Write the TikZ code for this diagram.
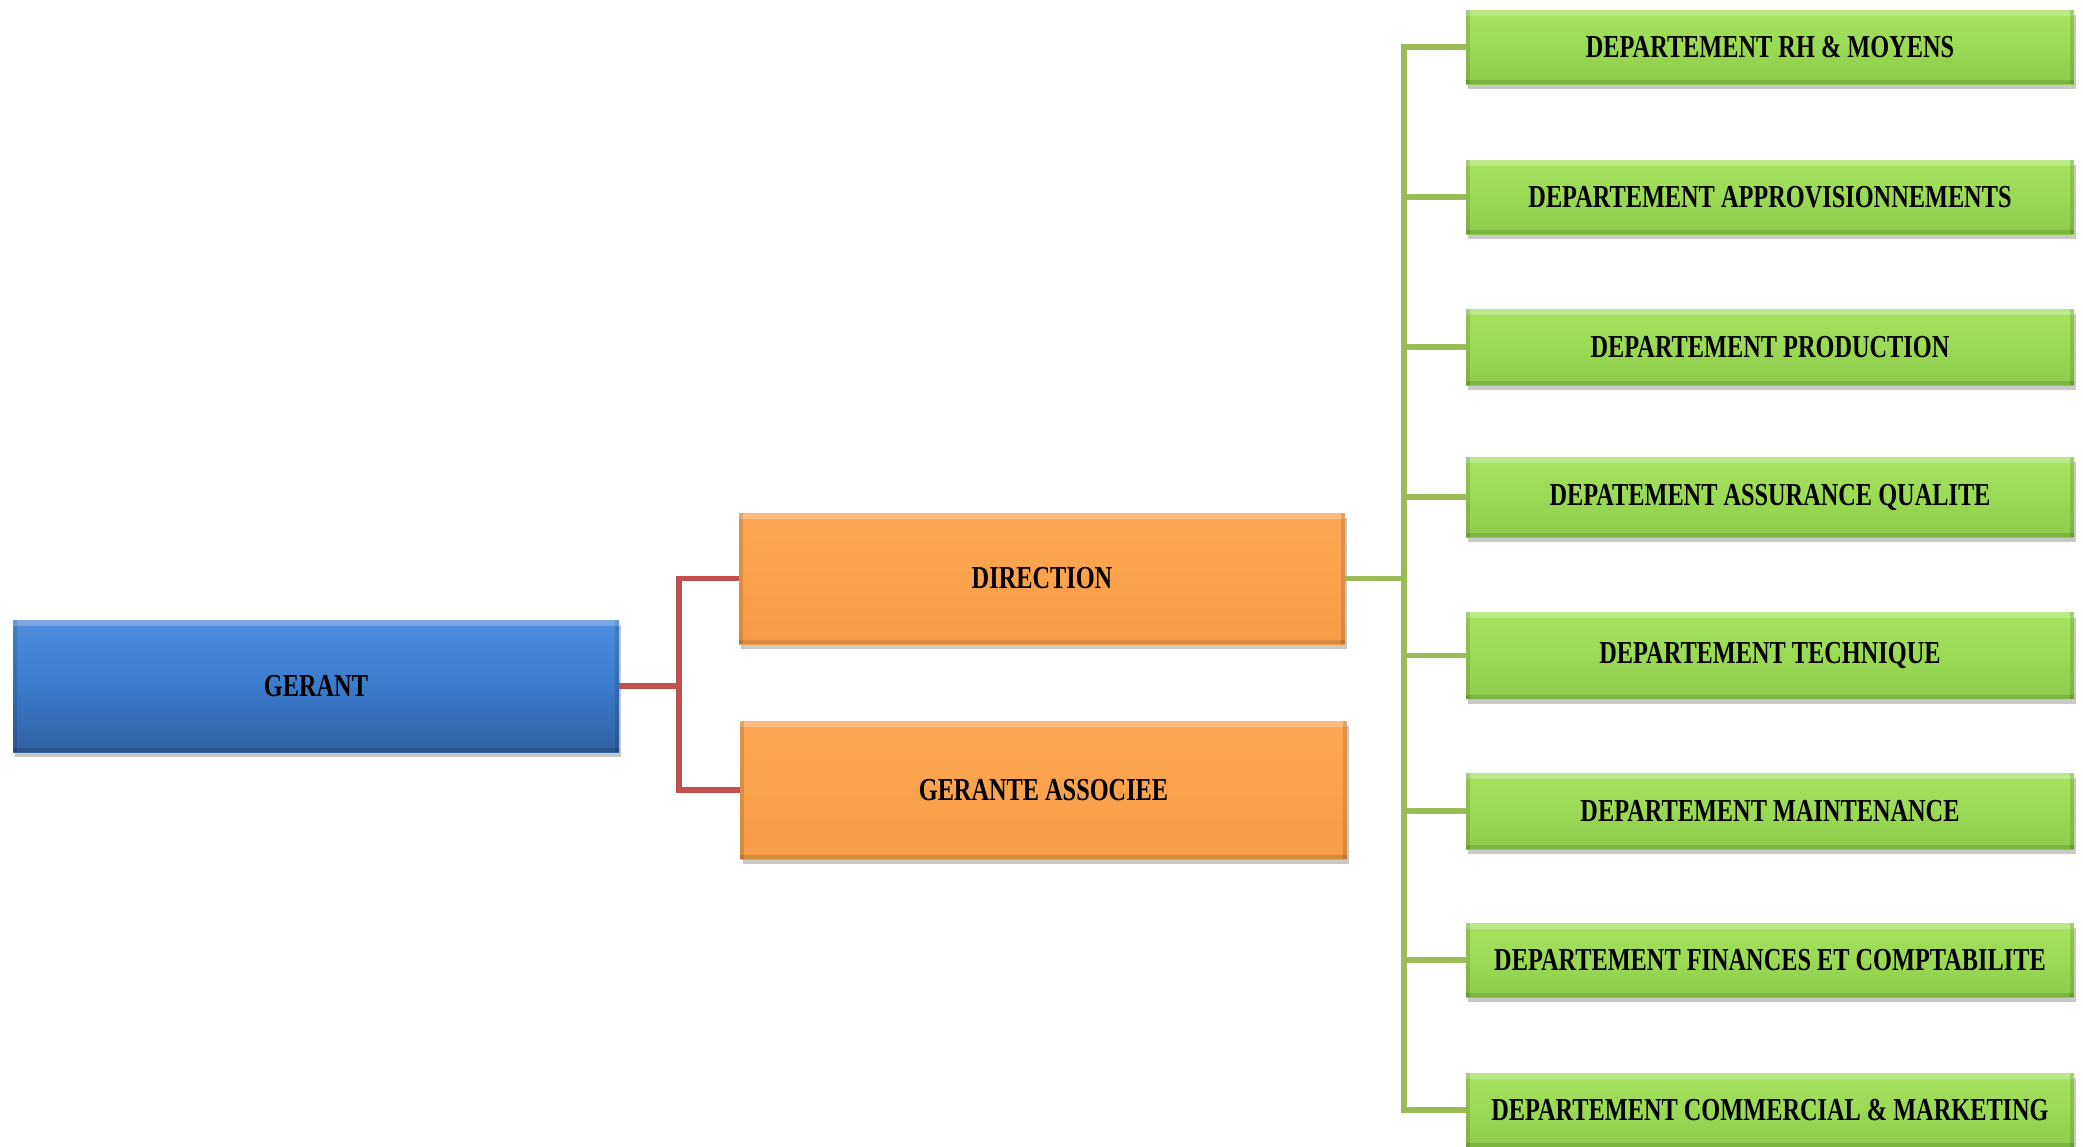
\documentclass[tikz,border=0pt]{standalone}
\usepackage{fontspec}
\newfontfamily\boxfont[FakeStretch=0.76]{Liberation Serif}
\usetikzlibrary{shadows}
\definecolor{blueTop}{HTML}{4F8EDD}
\definecolor{blueMid}{HTML}{3A7BCB}
\definecolor{blueBot}{HTML}{3161A0}
\definecolor{orangeTop}{HTML}{FBA853}
\definecolor{orangeMid}{HTML}{FBA24C}
\definecolor{orangeBot}{HTML}{F79C47}
\definecolor{greenTop}{HTML}{A6E25F}
\definecolor{greenMid}{HTML}{9ADA55}
\definecolor{greenBot}{HTML}{8DCB4A}
\definecolor{redLine}{HTML}{C0504D}
\definecolor{greenLine}{HTML}{9BBB59}
\begin{document}
\begin{tikzpicture}[x=0.5pt,y=-0.5pt,
  box/.style={draw=none, inner sep=0pt, text=black,
    font=\boxfont\bfseries\fontsize{16}{19}\selectfont,
    drop shadow={shadow xshift=1pt, shadow yshift=-2.5pt, opacity=0.3, fill=black!70}},
  bluebox/.style={box, top color=blueTop, bottom color=blueBot, middle color=blueMid,
    minimum width=303pt, minimum height=66pt},
  orangebox/.style={box, top color=orangeTop, bottom color=orangeBot, middle color=orangeMid,
    minimum width=303pt},
  greenbox/.style={box, top color=greenTop, bottom color=greenBot, middle color=greenMid,
    minimum width=304pt},
  redconn/.style={draw=redLine, line width=2.6pt},
  greenconn/.style={draw=greenLine, line width=2.6pt},
  bevel/.style={fill=white, opacity=0.25},
  bevelbot/.style={fill=black, opacity=0.12}
]
\useasboundingbox (0,0) rectangle (2083,1146);
\fill[white] (0,0) rectangle (2083,1146);

% junction points of the connectors
\coordinate (rj) at (679,686);
\coordinate (gj) at (1404,578.5);

% boxes
\node[bluebox] (gerant) at (316,686) {GERANT};
\node[orangebox, minimum height=65.5pt] (direction) at (1042,578.5) {DIRECTION};
\node[orangebox, minimum height=69pt] (gerante) at (1043.5,790) {GERANTE ASSOCIEE};

\node[greenbox, minimum height=37pt] (d1) at (1770,47) {DEPARTEMENT RH \& MOYENS};
\node[greenbox, minimum height=37pt] (d2) at (1770,197) {DEPARTEMENT APPROVISIONNEMENTS};
\node[greenbox, minimum height=38pt] (d3) at (1770,347) {DEPARTEMENT PRODUCTION};
\node[greenbox, minimum height=40pt] (d4) at (1770,497) {DEPATEMENT ASSURANCE QUALITE};
\node[greenbox, minimum height=43pt] (d5) at (1770,655.5) {DEPARTEMENT TECHNIQUE};
\node[greenbox, minimum height=38pt] (d6) at (1770,811) {DEPARTEMENT MAINTENANCE};
\node[greenbox, minimum height=37pt] (d7) at (1770,960) {DEPARTEMENT FINANCES ET COMPTABILITE};
\node[greenbox, minimum height=37pt] (d8) at (1770,1110) {DEPARTEMENT COMMERCIAL \& MARKETING};

% bevels
\foreach \n in {gerant,direction,gerante,d1,d2,d3,d4,d5,d6,d7,d8}{
  \fill[bevel] (\n.north west) rectangle ([yshift=-3pt]\n.north east);
  \fill[bevelbot] ([yshift=2pt]\n.south west) rectangle (\n.south east);
  \fill[bevelbot] (\n.north west) rectangle ([xshift=2pt]\n.south west);
  \fill[bevelbot] ([xshift=-2pt]\n.north east) rectangle (\n.south east);
}

% red connectors
\draw[redconn] (gerant.east) -- (rj);
\draw[redconn] (rj) |- (direction.west);
\draw[redconn] (rj) |- (gerante.west);

% green connectors
\draw[greenconn] (direction.east) -- (gj);
\foreach \n in {d1,d2,d3,d4,d5,d6,d7,d8}{
  \draw[greenconn] (gj) |- (\n.west);
}
\end{tikzpicture}
\end{document}
